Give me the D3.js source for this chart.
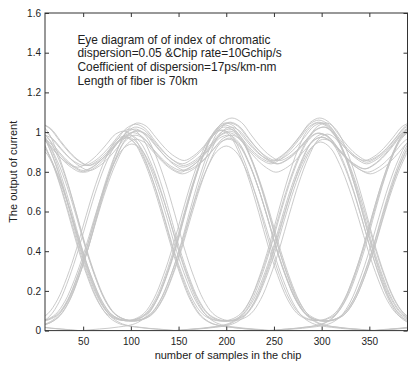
<!DOCTYPE html>
<html>
<head>
<meta charset="utf-8">
<script src="https://cdn.jsdelivr.net/npm/d3@7"></script>
<style>
  html, body { margin: 0; padding: 0; background: #fff; }
  svg { display: block; font-family: "Liberation Sans", Arial, sans-serif; }
</style>
</head>
<body>
<div id="eye"></div>
<script>
// chip centres (samples) that feed into the window
const chipCentres = [-100, 0, 100, 200, 300, 400, 500];

// received pulse, sampled every 10 samples away from its centre (0..150)
const pulseShape = [1.00, 0.97, 0.88, 0.75, 0.59, 0.42, 0.27, 0.15, 0.075, 0.04, 0.025, 0.018, 0.012, 0.008, 0.004, 0];

// one string of chips per trace, one gain and one timing offset per trace
const traceBits = [
  '1101011', '0011010', '1110101', '0101110', '1010110', '0110011', '1011101',
  '0100101', '1101100', '0010111', '1111010', '0101001', '1001110', '0111001',
  '1010011', '0101101', '1110110', '0011101', '1100111', '0110100', '1011011',
  '0101010', '1110011', '0011001', '1101110', '0111101', '1000110', '0101011'
];
const traceGain = [
  1.01, 0.96, 0.99, 1.02, 0.94, 0.98, 1.00,
  0.95, 1.02, 0.97, 0.99, 0.93, 1.01, 0.96,
  0.98, 1.00, 0.95, 1.02, 0.97, 0.99, 0.94,
  1.01, 0.96, 0.98, 1.00, 0.95, 1.02, 0.97
];
const traceShift = [
  -4, 3, 6, -2, 1, -6, 4,
  -1, 2, -5, 5, 0, -3, 7,
  -7, 3, -2, 6, -4, 1, 4,
  -6, 0, 5, -3, 2, -5, 3
];

const xTicks = [50, 100, 150, 200, 250, 300, 350];
const yTicks = [0, 0.2, 0.4, 0.6, 0.8, 1, 1.2, 1.4, 1.6];

const noteLines = [
  'Eye diagram of of index of chromatic',
  'dispersion=0.05 &Chip rate=10Gchip/s',
  'Coefficient of dispersion=17ps/km-nm',
  'Length of fiber is 70km'
];

const W = 409, H = 365;
const margin = { top: 13, right: 1.5, bottom: 34.4, left: 45 };
const plotW = W - margin.left - margin.right;
const plotH = H - margin.top - margin.bottom;

const svg = d3.select('#eye').append('svg')
  .attr('width', W)
  .attr('height', H);

const x = d3.scaleLinear().domain([10, 390]).range([0, plotW]);
const y = d3.scaleLinear().domain([0, 1.6]).range([plotH, 0]);

const g = svg.append('g')
  .attr('transform', `translate(${margin.left},${margin.top})`);

g.append('clipPath').attr('id', 'plot-clip')
  .append('rect').attr('width', plotW).attr('height', plotH);

// build every trace as a sum of shifted pulses, at the pulse's own sample grid
const traces = traceBits.map((bits, t) => {
  const pts = [];
  for (let j = -1; j <= 41; j++) {
    const s = j * 10;
    let v = 0;
    chipCentres.forEach((c, k) => {
      if (bits[k] !== '1') return;
      const idx = Math.abs(s - c) / 10;
      if (idx < pulseShape.length) v += pulseShape[idx];
    });
    pts.push([s + traceShift[t], v * traceGain[t]]);
  }
  return pts;
});

const line = d3.line()
  .x(d => x(d[0]))
  .y(d => y(d[1]))
  .curve(d3.curveCatmullRom);

g.append('g')
  .attr('clip-path', 'url(#plot-clip)')
  .selectAll('path')
  .data(traces)
  .enter().append('path')
    .attr('d', line)
    .attr('fill', 'none')
    .attr('stroke', '#c4c4c4')
    .attr('stroke-width', 0.9);

// axes, MATLAB style: ticks pointing inwards, box all round
const tickFont = 10;
const styleAxis = sel => {
  sel.select('.domain').remove();
  sel.selectAll('line').attr('stroke', '#333');
  sel.selectAll('text').attr('fill', '#222').attr('font-size', tickFont)
    .attr('font-family', '"Liberation Sans", Arial, sans-serif');
};

g.append('g')
  .attr('transform', `translate(0,${plotH})`)
  .call(d3.axisBottom(x).tickValues(xTicks).tickSizeInner(-4).tickSizeOuter(0).tickPadding(7))
  .call(styleAxis);

g.append('g')
  .call(d3.axisTop(x).tickValues(xTicks).tickSizeInner(-4).tickSizeOuter(0).tickFormat(''))
  .call(styleAxis);

g.append('g')
  .call(d3.axisLeft(y).tickValues(yTicks).tickSizeInner(-4).tickSizeOuter(0).tickPadding(4)
    .tickFormat(d3.format('~g')))
  .call(styleAxis);

g.append('g')
  .attr('transform', `translate(${plotW},0)`)
  .call(d3.axisRight(y).tickValues(yTicks).tickSizeInner(-4).tickSizeOuter(0).tickFormat(''))
  .call(styleAxis);

g.append('rect')
  .attr('width', plotW)
  .attr('height', plotH)
  .attr('fill', 'none')
  .attr('stroke', '#333')
  .attr('stroke-width', 1);

// annotation in the upper left
const note = g.append('g')
  .attr('transform', `translate(${x(44)},${30.5})`);
note.selectAll('text')
  .data(noteLines)
  .enter().append('text')
    .attr('x', 0)
    .attr('y', (d, i) => i * 13.9)
    .attr('font-size', 11.9)
    .attr('fill', '#222')
    .text(d => d);

// axis titles
svg.append('text')
  .attr('x', 228)
  .attr('y', 359)
  .attr('text-anchor', 'middle')
  .attr('font-size', 11)
  .attr('fill', '#222')
  .text('number of samples in the chip');

svg.append('text')
  .attr('transform', `translate(17,${margin.top + plotH / 2}) rotate(-90)`)
  .attr('text-anchor', 'middle')
  .attr('font-size', 11)
  .attr('fill', '#222')
  .text('The output of current');
</script>
</body>
</html>
